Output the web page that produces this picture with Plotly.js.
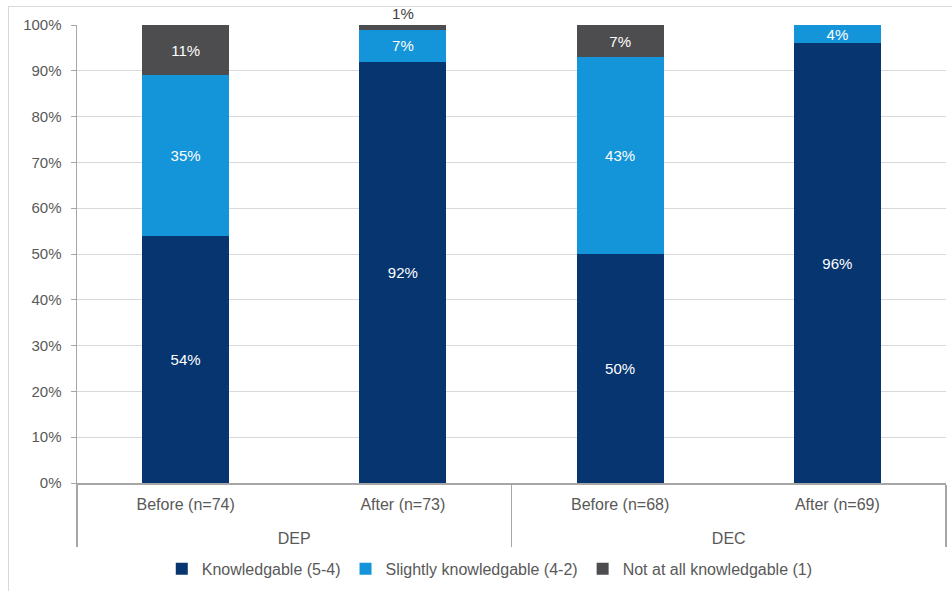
<!DOCTYPE html>
<html>
<head>
<meta charset="utf-8">
<script src="https://cdn.plot.ly/plotly-3.0.1.min.js"></script>
<style>
  html, body { margin: 0; padding: 0; background: #fff; }
  #wrap { position: relative; width: 952px; height: 591px; }
  #frame { position: absolute; left: 8px; top: 6px; width: 960px; height: 600px; border: 1px solid #d9d9d9; box-sizing: border-box; pointer-events: none; }
  #chart { position: absolute; left: 0; top: 0; width: 952px; height: 591px; }
</style>
</head>
<body>
<div id="wrap">
  <div id="chart"></div>
  <div id="frame"></div>
</div>
<script>
const groups = ['DEP', 'DEP', 'DEC', 'DEC'];
const subcats = ['Before (n=74)', 'After (n=73)', 'Before (n=68)', 'After (n=69)'];
const knowledgable = [54, 92, 50, 96];
const slightly = [35, 7, 43, 4];
const notAtAll = [11, 1, 7, 0];
const seriesNames = ['Knowledgable (5-4)', 'Slightly knowledgable (4-2)', 'Not at all knowledgable (1)'];
const colors = ['#063570', '#1494D9', '#4D4D4F'];

const FONT = 'Liberation Sans, Arial, sans-serif';
const lbl = v => v.map(x => x ? x + '%' : '');
// extra line before the group name gives the wider spacing between the two label rows
const groupLabels = groups.map(g => '<br>' + g);

function mk(vals, i, extra) {
  return Object.assign({
    type: 'bar',
    name: seriesNames[i],
    x: [groupLabels, subcats],
    y: vals,
    marker: { color: colors[i], line: { width: 0 } },
    text: lbl(vals),
    textposition: 'inside',
    insidetextanchor: 'middle',
    textangle: 0,
    textfont: { family: FONT, size: 15, color: '#ffffff' },
    hoverinfo: 'skip',
    cliponaxis: false
  }, extra || {});
}

const traces = [
  mk(knowledgable, 0),
  mk(slightly, 1),
  mk(notAtAll, 2, {
    textposition: notAtAll.map(v => v < 3 ? 'outside' : 'inside'),
    textfont: { family: FONT, size: 15, color: notAtAll.map(v => v < 3 ? '#404040' : '#ffffff') },
    outsidetextfont: { family: FONT, size: 15, color: '#404040' },
    constraintext: 'none'
  })
];

const layout = {
  width: 952, height: 591,
  margin: { l: 77, r: 6, t: 25, b: 107 },
  paper_bgcolor: 'rgba(0,0,0,0)',
  plot_bgcolor: '#ffffff',
  barmode: 'stack',
  bargap: 0.6,
  showlegend: true,
  uniformtext: { minsize: 15, mode: 'show' },
  font: { family: FONT, size: 15, color: '#595959' },
  legend: {
    orientation: 'h', x: 0.475, xanchor: 'center', y: -0.185, yanchor: 'middle',
    traceorder: 'normal',
    font: { family: FONT, size: 16, color: '#595959' },
    itemwidth: 30
  },
  xaxis: {
    type: 'multicategory',
    showline: true, linecolor: '#a6a6a6', linewidth: 1.5,
    showdividers: true, dividercolor: '#a6a6a6', dividerwidth: 1.5,
    ticks: '', showgrid: false,
    ticklabelstandoff: 6,
    tickfont: { family: FONT, size: 16, color: '#595959' }
  },
  yaxis: {
    range: [0, 100], dtick: 10, ticksuffix: '%',
    showgrid: true, gridcolor: '#d9d9d9', gridwidth: 1,
    showline: true, linecolor: '#a6a6a6', linewidth: 1.5,
    ticks: 'outside', ticklen: 5, tickcolor: '#a6a6a6',
    ticklabelstandoff: 6,
    zeroline: false,
    tickfont: { family: FONT, size: 15, color: '#595959' }
  }
};

Plotly.newPlot('chart', traces, layout, { displayModeBar: false, staticPlot: true });
</script>
</body>
</html>
